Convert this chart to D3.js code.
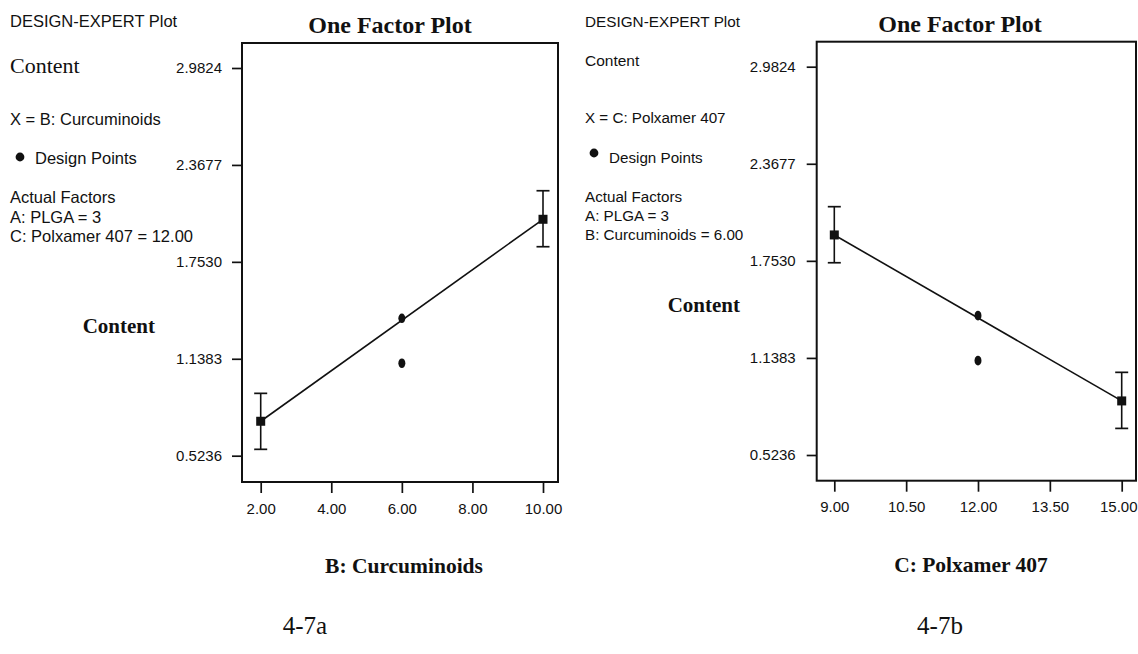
<!DOCTYPE html>
<html><head><meta charset="utf-8">
<script src="https://cdn.jsdelivr.net/npm/d3@7"></script>
<style>body{margin:0;background:#fff} svg{display:block}</style>
</head><body><svg id="c" width="1138" height="654"></svg>
<script>
// ---------- data ----------
const yTicks = [0.5236, 1.1383, 1.7530, 2.3677, 2.9824];
const yTickLabels = ["0.5236", "1.1383", "1.7530", "2.3677", "2.9824"];

// Panel 4-7a : B: Curcuminoids
const aXTicks = [2, 4, 6, 8, 10];
const aXTickLabels = ["2.00", "4.00", "6.00", "8.00", "10.00"];
const aPredX = [2, 10];
const aPred = [0.742, 2.023];
const aLow = [0.564, 1.849];
const aHigh = [0.919, 2.204];
const aPointX = [6, 6];
const aPointY = [1.395, 1.110];
const aLegend = ["X = B: Curcuminoids", "Design Points", "Actual Factors", "A: PLGA = 3", "C: Polxamer 407 = 12.00"];
const aXTitle = "B: Curcuminoids";
const aCaption = "4-7a";

// Panel 4-7b : C: Polxamer 407
const bXTicks = [9, 10.5, 12, 13.5, 15];
const bXTickLabels = ["9.00", "10.50", "12.00", "13.50", "15.00"];
const bPredX = [9, 15];
const bPred = [1.917, 0.866];
const bLow = [1.741, 0.692];
const bHigh = [2.096, 1.047];
const bPointX = [12, 12];
const bPointY = [1.406, 1.121];
const bLegend = ["X = C: Polxamer 407", "Design Points", "Actual Factors", "A: PLGA = 3", "B: Curcuminoids = 6.00"];
const bXTitle = "C: Polxamer 407";
const bCaption = "4-7b";

const headerText = "DESIGN-EXPERT Plot";
const titleText = "One Factor Plot";
const responseName = "Content";

// ---------- drawing ----------
const svg = d3.select("#c");
const SANS = "'Liberation Sans', Arial, sans-serif";
const SERIF = "'Liberation Serif', 'Times New Roman', serif";

function panel(cfg) {
  const g = svg.append("g");
  const x = d3.scaleLinear().domain([cfg.xTicks[0], cfg.xTicks[cfg.xTicks.length - 1]]).range(cfg.xr);
  const y = d3.scaleLinear().domain([yTicks[0], yTicks[yTicks.length - 1]]).range(cfg.yr);

  // frame
  g.append("rect").attr("x", cfg.f[0]).attr("y", cfg.f[2])
    .attr("width", cfg.f[1] - cfg.f[0]).attr("height", cfg.f[3] - cfg.f[2])
    .attr("fill", "none").attr("stroke", "#111").attr("stroke-width", 2);

  // y axis
  const ya = g.append("g").attr("transform", `translate(${cfg.f[0]},0)`)
    .call(d3.axisLeft(y).tickValues(yTicks).tickFormat((d, i) => yTickLabels[i])
      .tickSize(10).tickSizeOuter(0).tickPadding(cfg.ypad));
  ya.select(".domain").remove();
  ya.selectAll("line").attr("stroke", "#111").attr("stroke-width", 1.7);
  ya.selectAll("text").attr("font-family", SANS).attr("font-size", cfg.yfs).attr("fill", "#111");

  // x axis
  const xa = g.append("g").attr("transform", `translate(0,${cfg.f[3]})`)
    .call(d3.axisBottom(x).tickValues(cfg.xTicks).tickFormat((d, i) => cfg.xLabels[i])
      .tickSize(11).tickSizeOuter(0).tickPadding(10));
  xa.select(".domain").remove();
  xa.selectAll("line").attr("stroke", "#111").attr("stroke-width", 1.7);
  xa.selectAll("text").attr("font-family", SANS).attr("font-size", 15).attr("fill", "#111");
  if (cfg.lastLabelEnd) {
    xa.selectAll(".tick").filter((d, i) => i === cfg.xTicks.length - 1).select("text")
      .attr("text-anchor", "end").attr("x", cfg.lastLabelEnd - x(cfg.xTicks[cfg.xTicks.length - 1]));
  }

  // prediction line
  const pts = cfg.predX.map((v, i) => [v, cfg.pred[i]]);
  g.append("path").datum(pts)
    .attr("d", d3.line().x(d => x(d[0])).y(d => y(d[1])))
    .attr("fill", "none").attr("stroke", "#111").attr("stroke-width", 1.6);

  // error bars
  cfg.predX.forEach((v, i) => {
    const cx = x(v);
    g.append("line").attr("x1", cx).attr("x2", cx).attr("y1", y(cfg.low[i])).attr("y2", y(cfg.high[i]))
      .attr("stroke", "#111").attr("stroke-width", 1.6);
    [cfg.low[i], cfg.high[i]].forEach(e => {
      g.append("line").attr("x1", cx - 6.5).attr("x2", cx + 6.5).attr("y1", y(e)).attr("y2", y(e))
        .attr("stroke", "#111").attr("stroke-width", 1.7);
    });
    g.append("rect").attr("x", cx - 4.5).attr("y", y(cfg.pred[i]) - 4.5).attr("width", 9).attr("height", 9)
      .attr("fill", "#111");
  });

  // design points
  cfg.pointX.forEach((v, i) => {
    g.append("ellipse").attr("cx", x(v)).attr("cy", y(cfg.pointY[i])).attr("rx", 3.5).attr("ry", 4.8)
      .attr("fill", "#111");
  });

  // titles
  g.append("text").attr("x", cfg.titleX).attr("y", cfg.titleY).attr("text-anchor", "middle")
    .attr("font-family", SERIF).attr("font-weight", "bold").attr("font-size", 24).attr("fill", "#111")
    .text(titleText);
  g.append("text").attr("x", cfg.ylabX).attr("y", cfg.ylabY).attr("text-anchor", "end")
    .attr("font-family", SERIF).attr("font-weight", "bold").attr("font-size", 21).attr("fill", "#111")
    .text(responseName);
  g.append("text").attr("x", cfg.xtX).attr("y", cfg.xtY).attr("text-anchor", "middle")
    .attr("font-family", SERIF).attr("font-weight", "bold").attr("font-size", 21.5).attr("fill", "#111")
    .text(cfg.xTitle);
  g.append("text").attr("x", cfg.capX).attr("y", 634).attr("text-anchor", "middle")
    .attr("font-family", SERIF).attr("font-size", 25).attr("fill", "#111")
    .text(cfg.caption);

  // legend block
  const L = cfg.leg;
  g.append("text").attr("x", L.x).attr("y", 27).attr("font-family", SANS).attr("font-size", L.hfs)
    .attr("fill", "#111").text(headerText);
  g.append("text").attr("x", L.x).attr("y", L.contentY).attr("font-family", L.contentFont)
    .attr("font-size", L.contentFs).attr("fill", "#111").text(responseName);
  g.append("text").attr("x", L.x).attr("y", L.rows[0]).attr("font-family", SANS).attr("font-size", L.fs)
    .attr("fill", "#111").text(cfg.legend[0]);
  g.append("circle").attr("cx", L.x + L.dotDx).attr("cy", L.dotY).attr("r", 4.4).attr("fill", "#111");
  g.append("text").attr("x", L.x + L.textDx).attr("y", L.rows[1]).attr("font-family", SANS).attr("font-size", L.fs)
    .attr("fill", "#111").text(cfg.legend[1]);
  for (let k = 2; k < 5; k++) {
    g.append("text").attr("x", L.x).attr("y", L.rows[k]).attr("font-family", SANS).attr("font-size", L.fs)
      .attr("fill", "#111").text(cfg.legend[k]);
  }
}

panel({
  xTicks: aXTicks, xLabels: aXTickLabels, xr: [260.7, 543], yr: [455.7, 68],
  f: [242, 558, 43, 482], ypad: 10, yfs: 15,
  predX: aPredX, pred: aPred, low: aLow, high: aHigh, pointX: aPointX, pointY: aPointY,
  titleX: 390, titleY: 33, ylabX: 155, ylabY: 333, xtX: 404, xtY: 573, xTitle: aXTitle,
  caption: aCaption, capX: 305, legend: aLegend,
  leg: { x: 10, hfs: 16.5, contentY: 73, contentFont: SERIF, contentFs: 22, fs: 16.5,
         rows: [125, 164, 203, 223, 242], dotDx: 10, dotY: 157, textDx: 25 }
});

panel({
  xTicks: bXTicks, xLabels: bXTickLabels, xr: [834.3, 1121.7], yr: [455, 66.7],
  f: [816.7, 1136, 41.7, 480.7], ypad: 11, yfs: 15,
  predX: bPredX, pred: bPred, low: bLow, high: bHigh, pointX: bPointX, pointY: bPointY,
  titleX: 960, titleY: 32, ylabX: 740, ylabY: 312, xtX: 971, xtY: 572, xTitle: bXTitle,
  caption: bCaption, capX: 940, legend: bLegend, lastLabelEnd: 1137,
  leg: { x: 585, hfs: 15.3, contentY: 66, contentFont: SANS, contentFs: 15.5, fs: 15.2,
         rows: [123, 163, 202, 221, 240], dotDx: 9, dotY: 153, textDx: 24 }
});
</script>
</body></html>
